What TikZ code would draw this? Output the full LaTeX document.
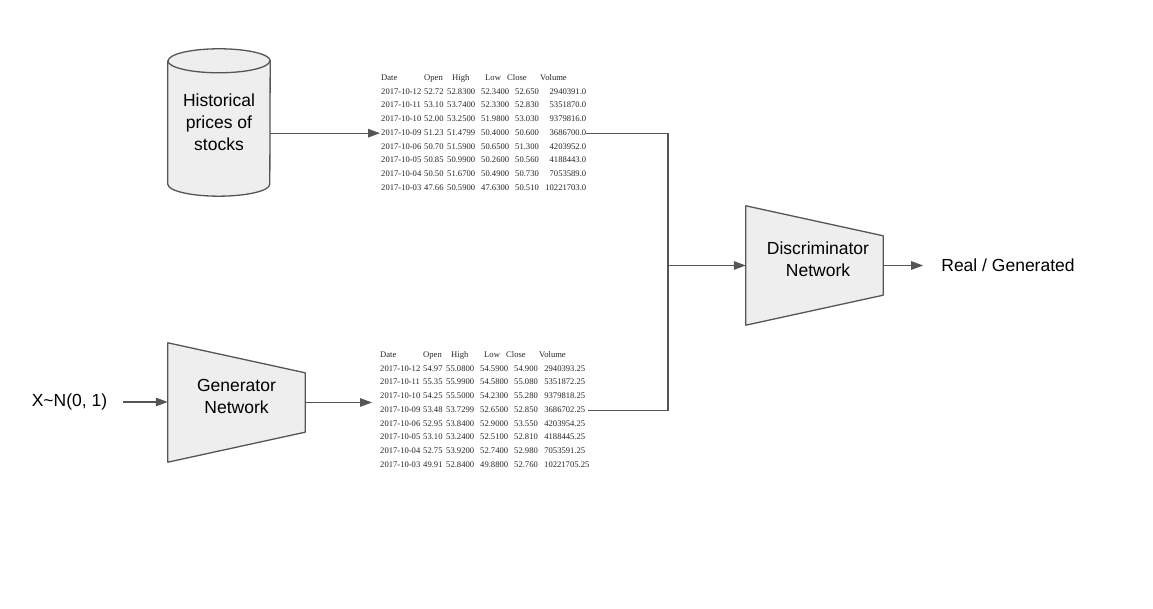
\documentclass[tikz,border=0pt]{standalone}
\usepackage{fontspec}
\setmainfont{Liberation Sans}
\newfontfamily\tabfont{Liberation Serif}
\usetikzlibrary{arrows.meta,positioning,matrix,calc,backgrounds}

\definecolor{edgegray}{HTML}{555555}
\definecolor{boxfill}{HTML}{EEEEEE}

\newcommand{\nudge}[2]{\hspace*{#1}#2}

\tikzset{
  netbox/.style={minimum width=137pt, minimum height=119pt, inner sep=0pt},
  netlabel/.style={align=center, inner sep=2pt, font=\fontsize{17.5}{22}\selectfont},
  shell/.style={draw=edgegray, fill=boxfill, line width=1.3pt, line join=round},
  wire/.style={draw=edgegray, line width=1.3pt},
  arr/.style={wire, -{Triangle[length=12pt,width=8.5pt]}},
  prices/.style={matrix of nodes, inner sep=0pt, column sep=0pt, row sep=6.05pt,
    nodes={font=\tabfont\fontsize{8.6}{10}\selectfont, text=black!85, inner sep=0pt,
      text height=6pt, text depth=1.7pt, anchor=base west, align=left},
    column 1/.style={nodes={text width=43pt}},
    column 2/.style={nodes={text width=23pt}},
    column 3/.style={nodes={text width=34pt}},
    column 4/.style={nodes={text width=34pt}},
    column 5/.style={nodes={text width=30pt}},
    column 6/.style={nodes={text width=41pt, align=right}},
    row 1 column 6/.style={nodes={align=left}}}
}

\begin{document}
\begin{tikzpicture}[x=1pt, y=1pt]
    \useasboundingbox (0,0) rectangle (1153,609);

    % stock history
    \node[netlabel, minimum width=102pt, minimum height=147pt] (hist) at (219,486.5) {Historical\\prices of\\stocks};

    % the two price tables
    \matrix[prices, anchor=north west] (real) at (381,534.85) {
      Date & Open & \nudge{5pt}{High} & \nudge{4pt}{Low} & \nudge{-8pt}{Close} & \nudge{-5pt}{Volume} \\
      2017-10-12 & 52.72 & 52.8300 & 52.3400 & 52.650 & 2940391.0 \\
      2017-10-11 & 53.10 & 53.7400 & 52.3300 & 52.830 & 5351870.0 \\
      2017-10-10 & 52.00 & 53.2500 & 51.9800 & 53.030 & 9379816.0 \\
      2017-10-09 & 51.23 & 51.4799 & 50.4000 & 50.600 & 3686700.0 \\
      2017-10-06 & 50.70 & 51.5900 & 50.6500 & 51.300 & 4203952.0 \\
      2017-10-05 & 50.85 & 50.9900 & 50.2600 & 50.560 & 4188443.0 \\
      2017-10-04 & 50.50 & 51.6700 & 50.4900 & 50.730 & 7053589.0 \\
      2017-10-03 & 47.66 & 50.5900 & 47.6300 & 50.510 & 10221703.0 \\
    };
    \matrix[prices, anchor=north west] (fake) at (380,257.85) {
      Date & Open & \nudge{5pt}{High} & \nudge{4pt}{Low} & \nudge{-8pt}{Close} & \nudge{-5pt}{Volume} \\
      2017-10-12 & 54.97 & 55.0800 & 54.5900 & 54.900 & 2940393.25 \\
      2017-10-11 & 55.35 & 55.9900 & 54.5800 & 55.080 & 5351872.25 \\
      2017-10-10 & 54.25 & 55.5000 & 54.2300 & 55.280 & 9379818.25 \\
      2017-10-09 & 53.48 & 53.7299 & 52.6500 & 52.850 & 3686702.25 \\
      2017-10-06 & 52.95 & 53.8400 & 52.9000 & 53.550 & 4203954.25 \\
      2017-10-05 & 53.10 & 53.2400 & 52.5100 & 52.810 & 4188445.25 \\
      2017-10-04 & 52.75 & 53.9200 & 52.7400 & 52.980 & 7053591.25 \\
      2017-10-03 & 49.91 & 52.8400 & 49.8800 & 52.760 & 10221705.25 \\
    };

    % generator and discriminator
    \node[netlabel] (xin) at (69.5,207) {X\textasciitilde N(0, 1)};
    \node[netbox] (gen) at (236.5,206.5) {};
    \node[netlabel] (genlabel) at (236.5,212.5) {Generator\\Network};
    \node[netbox] (disc) at (814.5,343.5) {};
    \node[netlabel] (disclabel) at (818,349.5) {Discriminator\\Network};
    \node[netlabel] (out) at (1008,343.5) {Real / Generated};
    \coordinate (join) at (668,343.5);

    \begin{scope}[on background layer]
        \draw[shell] ([yshift=-12pt]hist.north west) -- ([yshift=12pt]hist.south west)
            arc[start angle=180, end angle=360, x radius=51pt, y radius=12pt]
            -- ([yshift=-12pt]hist.north east)
            arc[start angle=0, end angle=180, x radius=51pt, y radius=12pt] -- cycle;
        \draw[shell, fill=none] ([yshift=-12pt]hist.north west)
            arc[start angle=180, end angle=360, x radius=51pt, y radius=12pt];
        \draw[shell] (gen.north west) -- ([yshift=-30pt]gen.north east)
            -- ([yshift=30pt]gen.south east) -- (gen.south west) -- cycle;
        \draw[shell] (disc.north west) -- ([yshift=-30pt]disc.north east)
            -- ([yshift=30pt]disc.south east) -- (disc.south west) -- cycle;
    \end{scope}

    % connectors
    \draw[arr] (hist.east |- real-5-1.west) -- ([xshift=-1pt]real-5-1.west);
    \draw[arr] ([xshift=14pt]xin.east) -- (gen.west |- xin.east);
    \draw[arr] (gen.east) -- ([xshift=-8pt]fake.west |- gen.east);
    \draw[wire] (real-5-6.east) -| (join);
    \draw[wire] ([xshift=3pt]fake-5-6.east) -| (join);
    \draw[arr] (join) -- (disc.west);
    \draw[arr] (disc.east) -- ([xshift=-16pt]out.west);
\end{tikzpicture}
\end{document}
